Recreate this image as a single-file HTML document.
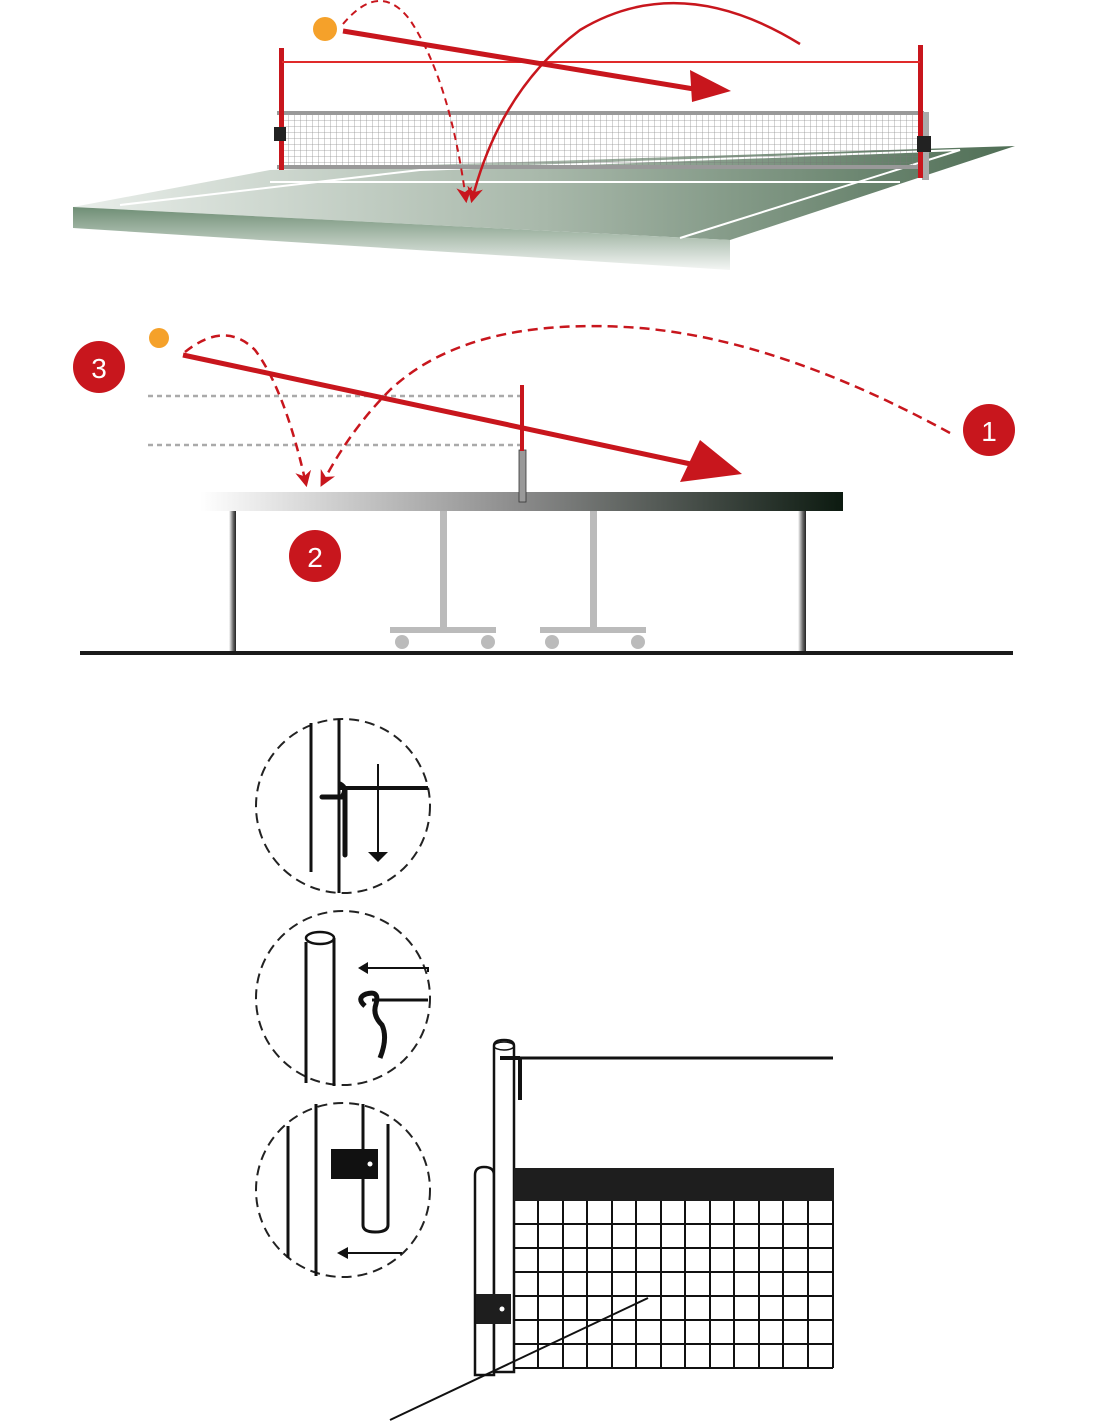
<!DOCTYPE html>
<html><head><meta charset="utf-8"><style>html,body{margin:0;padding:0;background:#fff}svg{display:block}</style></head>
<body>
<svg width="1100" height="1422" viewBox="0 0 1100 1422" xmlns="http://www.w3.org/2000/svg" font-family="Liberation Sans, sans-serif">
<defs>
<linearGradient id="tg" x1="0" x2="1" y1="0" y2="0"><stop offset="0" stop-color="#e9eeea"/><stop offset="0.5" stop-color="#a8b8aa"/><stop offset="1" stop-color="#4f6e55"/></linearGradient>
<linearGradient id="fg" x1="0" x2="0" y1="0" y2="1"><stop offset="0" stop-color="#6f8e75"/><stop offset="1" stop-color="#f4f6f4"/></linearGradient>
<linearGradient id="mg" x1="0" x2="1"><stop offset="0" stop-color="#fff"/><stop offset="0.5" stop-color="#8a8a8a"/><stop offset="1" stop-color="#0c1a10"/></linearGradient>
<linearGradient id="lg" x1="0" x2="1"><stop offset="0" stop-color="#fff"/><stop offset="0.6" stop-color="#666"/><stop offset="1" stop-color="#222"/></linearGradient>
<pattern id="mesh" width="6" height="6" patternUnits="userSpaceOnUse"><path d="M0 0H6M0 0V6" stroke="#777" stroke-width="0.8" fill="none"/></pattern>
<marker id="ah" viewBox="0 0 10 10" refX="8" refY="5" markerWidth="9" markerHeight="9" markerUnits="userSpaceOnUse" orient="auto"><path d="M0 0L10 5L0 10z" fill="#c8161d"/></marker>
<marker id="ah2" viewBox="0 0 10 10" refX="8" refY="5" markerWidth="16" markerHeight="16" markerUnits="userSpaceOnUse" orient="auto"><path d="M0 0L10 5L0 10L3 5z" fill="#c8161d"/></marker>
</defs>
<!-- TOP TABLE -->
<polygon points="73,207 270,170 1015,146 730,240" fill="url(#tg)"/>
<polygon points="73,207 730,240 730,270 73,228" fill="url(#fg)"/>
<polyline points="120,205 420,170 960,150 680,238" fill="none" stroke="#fff" stroke-width="2"/>
<line x1="270" y1="182" x2="900" y2="182" stroke="#fff" stroke-width="2"/>
<rect x="280" y="113" width="642" height="55" fill="url(#mesh)" opacity="0.8"/>
<rect x="277" y="111" width="647" height="4" fill="#999"/>
<rect x="277" y="165" width="647" height="4" fill="#999"/>
<rect x="922" y="112" width="7" height="68" fill="#aaa"/>
<rect x="279" y="48" width="5" height="122" fill="#c8161d"/>
<rect x="918" y="45" width="5" height="133" fill="#c8161d"/>
<rect x="274" y="127" width="12" height="14" fill="#222"/>
<rect x="917" y="136" width="14" height="16" fill="#222"/>
<line x1="282" y1="62" x2="920" y2="62" stroke="#e02a2a" stroke-width="2"/>
<circle cx="325" cy="29" r="12" fill="#f5a12a"/>
<path d="M343 24 Q380 -20 410 20 Q450 80 466 200" fill="none" stroke="#c8161d" stroke-width="2" stroke-dasharray="7,5" marker-end="url(#ah2)"/>
<path d="M800 44 Q680 -30 580 30 Q500 90 472 200" fill="none" stroke="#c8161d" stroke-width="2.5" marker-end="url(#ah2)"/>
<line x1="343" y1="31" x2="700" y2="90" stroke="#c8161d" stroke-width="5"/>
<polygon points="690,70 731,91 692,102" fill="#c8161d"/>
<!-- MIDDLE -->
<line x1="148" y1="396" x2="520" y2="396" stroke="#aaa" stroke-width="2.5" stroke-dasharray="5,4"/>
<line x1="148" y1="445" x2="520" y2="445" stroke="#aaa" stroke-width="2.5" stroke-dasharray="5,4"/>
<g fill="#bbb"><rect x="440" y="511" width="7" height="118"/><rect x="590" y="511" width="7" height="118"/><rect x="390" y="627" width="106" height="6"/><rect x="540" y="627" width="106" height="6"/><circle cx="402" cy="642" r="7"/><circle cx="488" cy="642" r="7"/><circle cx="552" cy="642" r="7"/><circle cx="638" cy="642" r="7"/></g>
<rect x="229" y="511" width="7" height="141" fill="url(#lg)"/>
<rect x="798" y="511" width="8" height="141" fill="url(#lg)"/>
<rect x="200" y="492" width="643" height="19" fill="url(#mg)"/>
<rect x="519" y="450" width="7" height="52" fill="#999" stroke="#333" stroke-width="0.8"/>
<rect x="520" y="385" width="4" height="66" fill="#c8161d"/>
<rect x="80" y="651" width="933" height="4" fill="#1a1a1a"/>
<circle cx="159" cy="338" r="10" fill="#f5a12a"/>
<path d="M185 352 Q225 320 255 350 Q285 390 306 484" fill="none" stroke="#c8161d" stroke-width="2.5" stroke-dasharray="9,6" marker-end="url(#ah2)"/>
<path d="M950 433 Q780 340 640 328 Q470 315 390 390 Q350 430 322 484" fill="none" stroke="#c8161d" stroke-width="2.5" stroke-dasharray="10,6" marker-end="url(#ah2)"/>
<line x1="183" y1="355" x2="700" y2="466" stroke="#c8161d" stroke-width="5"/>
<polygon points="700,440 742,474 680,482" fill="#c8161d"/>
<circle cx="99" cy="367" r="26" fill="#c8161d"/><text x="99" y="378" font-size="28" fill="#fff" text-anchor="middle">3</text>
<circle cx="989" cy="430" r="26" fill="#c8161d"/><text x="989" y="441" font-size="28" fill="#fff" text-anchor="middle">1</text>
<circle cx="315" cy="556" r="26" fill="#c8161d"/><text x="315" y="567" font-size="28" fill="#fff" text-anchor="middle">2</text>
<!-- CIRCLES -->
<g fill="none" stroke="#222" stroke-width="2" stroke-dasharray="10,6">
<circle cx="343" cy="806" r="87"/><circle cx="343" cy="998" r="87"/><circle cx="343" cy="1190" r="87"/></g>
<g stroke="#111" stroke-width="3" fill="none">
<path d="M311 723V872M339 719V893"/>
<path d="M340 788H428" stroke-width="4"/>
<path d="M322 797H342Q348 788 340 784M345 790V855" stroke-width="5" stroke-linecap="round"/>
<path d="M378 764V855" stroke-width="2"/>
<path d="M306 942V1083M334 938V1086"/>
<ellipse cx="320" cy="938" rx="14" ry="6" stroke-width="2.5"/>
<path d="M360 968H428V972" stroke-width="2"/>
<path d="M372 1000H428" stroke-width="3"/>
<path d="M365 1006Q356 998 366 994Q380 990 376 1004Q372 1015 382 1025Q388 1038 380 1058" stroke-width="5"/>
<path d="M288 1126V1258M316 1104V1276"/>
<path d="M363 1104V1225Q363 1232 375 1232Q388 1232 388 1225V1124"/>
<path d="M345 1253H402" stroke-width="2"/>
</g>
<polygon points="368,852 388,852 378,862" fill="#111"/>
<polygon points="358,968 368,962 368,974" fill="#111"/>
<polygon points="337,1253 348,1247 348,1259" fill="#111"/>
<rect x="331" y="1149" width="47" height="30" fill="#111"/><circle cx="370" cy="1164" r="2.5" fill="#fff"/>
<!-- BOTTOM NET -->
<g stroke="#111" stroke-width="2.5" fill="#fff">
<path d="M475 1175Q475 1167 484 1167Q494 1167 494 1175V1375H475Z"/>
<path d="M494 1046Q494 1040 504 1040Q514 1040 514 1046V1372H494Z"/>
</g>
<ellipse cx="504" cy="1046" rx="10" ry="4" fill="none" stroke="#111" stroke-width="1.5"/>
<line x1="514" y1="1058" x2="833" y2="1058" stroke="#111" stroke-width="3"/>
<path d="M500 1058H520M520 1058V1100" stroke="#111" stroke-width="4"/>
<rect x="514" y="1168" width="320" height="33" fill="#1e1e1e"/>
<g stroke="#111" stroke-width="2">
<path d="M514 1201V1368M538 1201V1368M563 1201V1368M587 1201V1368M612 1201V1368M636 1201V1368M661 1201V1368M685 1201V1368M710 1201V1368M734 1201V1368M759 1201V1368M783 1201V1368M808 1201V1368M833 1201V1368"/>
<path d="M514 1224H833M514 1248H833M514 1272H833M514 1296H833M514 1320H833M514 1344H833M514 1368H833"/>
</g>
<rect x="476" y="1294" width="35" height="30" fill="#1e1e1e"/><circle cx="502" cy="1309" r="2.5" fill="#fff"/>
<line x1="390" y1="1420" x2="648" y2="1298" stroke="#111" stroke-width="2"/>
</svg>
</body></html>
